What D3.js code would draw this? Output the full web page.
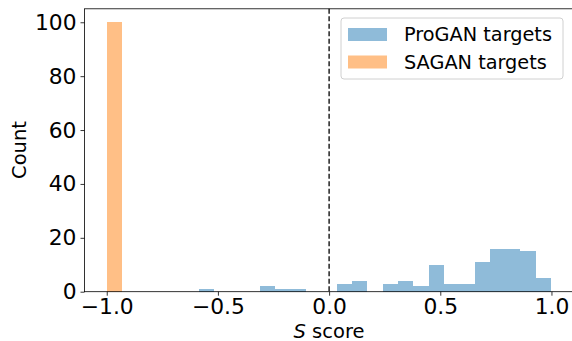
<!DOCTYPE html>
<html>
<head>
<meta charset="utf-8">
<script src="https://cdn.jsdelivr.net/npm/d3@7"></script>
<style>
  body { margin: 0; background: #fff; }
  svg { font-family: "DejaVu Sans", sans-serif; }
</style>
</head>
<body>
<svg id="chart" width="572" height="341"></svg>
<script>
// histogram data
const progMin = -0.587;
const progMax = 0.9986;
const progCounts = [1, 0, 0, 0, 2, 1, 1, 0, 0, 3, 4, 0, 3, 4, 2, 10, 3, 3, 11, 16, 16, 15, 5];
const sagaEdges = [-1.0, -0.931];
const sagaCounts = [100];
const xTicks = [-1.0, -0.5, 0.0, 0.5, 1.0];
const yTicks = [0, 20, 40, 60, 80, 100];
const seriesNames = ["ProGAN targets", "SAGAN targets"];
const seriesColors = ["#1f77b4", "#ff7f0e"];

const svg = d3.select("#chart");
const plotL = 84.5, plotR = 573.7, plotT = 8.8, plotB = 291.7;

const x = d3.scaleLinear().domain([-1.1, 1.1]).range([plotL, plotR]);
const y = d3.scaleLinear().domain([0, 105]).range([plotB, plotT]);

const binW = (progMax - progMin) / progCounts.length;
const progBins = progCounts.map((c, i) => ({
  x0: progMin + i * binW,
  x1: progMin + (i + 1) * binW,
  n: c,
}));
const sagaBins = sagaCounts.map((c, i) => ({ x0: sagaEdges[i], x1: sagaEdges[i + 1], n: c }));

const drawHist = (bins, color) => {
  svg
    .append("g")
    .attr("shape-rendering", "crispEdges")
    .selectAll("rect")
    .data(bins.filter((d) => d.n > 0))
    .join("rect")
    .attr("x", (d) => x(d.x0))
    .attr("width", (d) => x(d.x1) - x(d.x0))
    .attr("y", (d) => y(d.n))
    .attr("height", (d) => y(0) - y(d.n))
    .attr("fill", color)
    .attr("fill-opacity", 0.5);
};

drawHist(progBins, seriesColors[0]);
drawHist(sagaBins, seriesColors[1]);

// dashed line at zero
svg
  .append("line")
  .attr("x1", x(0))
  .attr("x2", x(0))
  .attr("y1", y(105))
  .attr("y2", y(0))
  .attr("stroke", "#000")
  .attr("stroke-width", 1.3)
  .attr("stroke-dasharray", "5,2.5");

// frame
svg
  .append("rect")
  .attr("x", plotL)
  .attr("y", plotT)
  .attr("width", plotR - plotL)
  .attr("height", plotB - plotT)
  .attr("fill", "none")
  .attr("stroke", "#000")
  .attr("stroke-width", 0.8);

const xAxis = svg
  .append("g")
  .attr("transform", `translate(0,${plotB})`)
  .call(d3.axisBottom(x).tickValues(xTicks).tickSize(4).tickPadding(3).tickFormat(d3.format(".1f")));
const yAxis = svg
  .append("g")
  .attr("transform", `translate(${plotL},0)`)
  .call(d3.axisLeft(y).tickValues(yTicks).tickSize(4).tickPadding(4));

[xAxis, yAxis].forEach((a) => {
  a.select(".domain").remove();
  a.selectAll("line").attr("stroke-width", 0.8);
  a.selectAll("text").attr("font-family", "DejaVu Sans").attr("font-size", 21.8).attr("fill", "#000");
});

svg
  .append("text")
  .attr("x", 329)
  .attr("y", 337.5)
  .attr("text-anchor", "middle")
  .attr("font-size", 19.5)
  .html('<tspan font-style="italic">S</tspan> score');

svg
  .append("text")
  .attr("transform", "translate(25.5,150) rotate(-90)")
  .attr("text-anchor", "middle")
  .attr("font-size", 19.5)
  .text("Count");

// legend
const lg = svg.append("g");
lg.append("rect")
  .attr("x", 341)
  .attr("y", 18)
  .attr("width", 222)
  .attr("height", 61)
  .attr("rx", 3)
  .attr("fill", "#fff")
  .attr("fill-opacity", 0.8)
  .attr("stroke", "#d0d0d0");

seriesNames.forEach((name, i) => {
  lg.append("rect")
    .attr("x", 348)
    .attr("y", 28 + i * 27.5)
    .attr("width", 39)
    .attr("height", 13)
    .attr("fill", seriesColors[i])
    .attr("fill-opacity", 0.5);
  lg.append("text")
    .attr("x", 404)
    .attr("y", 41 + i * 27.5)
    .attr("font-size", 19.3)
    .text(name);
});
</script>
</body>
</html>
